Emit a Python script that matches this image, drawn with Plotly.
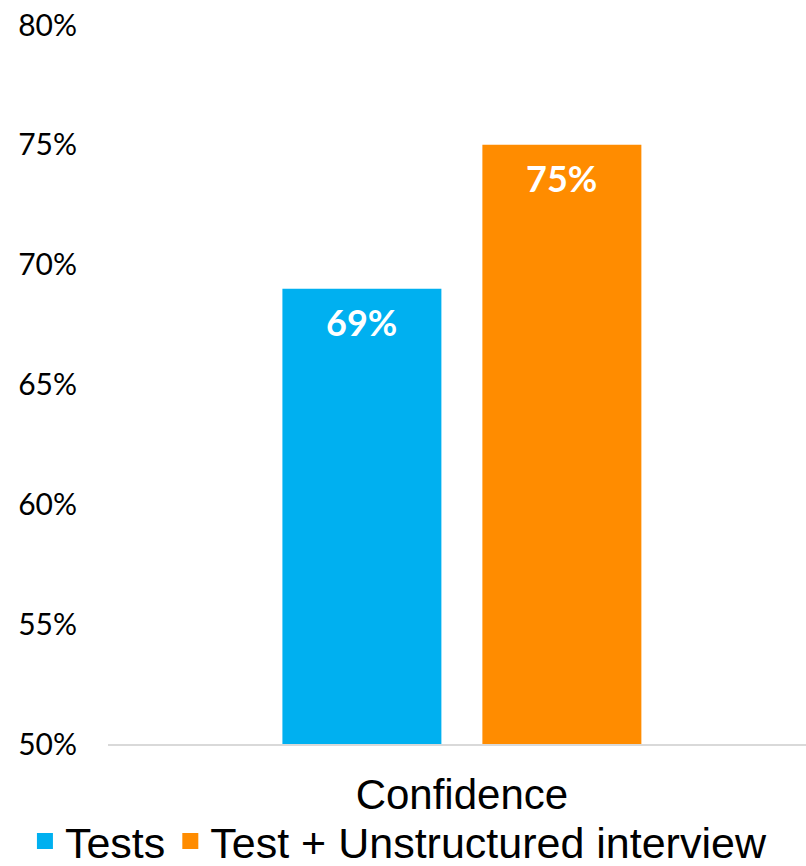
import plotly.graph_objects as go

categories = ["Confidence"]
series_names = ["Tests", "Test + Unstructured interview"]
series_values = [[0.69], [0.75]]
series_colors = ["#00B0F0", "#FF8C00"]
label_shift = [-100, 100]

fig = go.Figure()
for name, vals, col in zip(series_names, series_values, series_colors):
    fig.add_trace(go.Bar(x=categories, y=vals, name=name, marker_color=col,
                         marker_line_width=0, showlegend=False))
# legend entries with larger square swatches
for name, col in zip(series_names, series_colors):
    fig.add_trace(go.Scatter(x=[None], y=[None], name=name, mode="markers",
                             marker=dict(symbol="square", size=20, color=col)))

for vals, sh in zip(series_values, label_shift):
    for c, v in zip(categories, vals):
        fig.add_annotation(x=c, y=v, xref="x", yref="y", text=f"<b>{round(v*100)}%</b>",
                           showarrow=False, xshift=sh, yanchor="top", yshift=-9,
                           font=dict(family="Lato", size=36, color="white"))

fig.update_layout(
    width=806, height=866,
    margin=dict(l=108, r=0, t=25, b=122, autoexpand=False),
    paper_bgcolor="white", plot_bgcolor="white",
    barmode="group", bargap=0.427, bargroupgap=0.205,
    showlegend=True,
    legend=dict(orientation="h", x=-0.119, xanchor="left",
                y=-0.135, yanchor="middle", bgcolor="rgba(0,0,0,0)",
                font=dict(family="Liberation Sans, Arial", size=43, color="black"),
                itemwidth=30, tracegroupgap=0),
    xaxis=dict(range=[-0.507, 0.493], showline=True, linecolor="#d9d9d9", linewidth=2,
               showgrid=False, ticks="", ticklabelstandoff=13, automargin=False,
               tickfont=dict(family="Liberation Sans, Arial", size=42, color="black")),
    yaxis=dict(range=[0.5, 0.8], dtick=0.05, tick0=0.5, tickformat=".0%",
               showgrid=False, zeroline=False, showline=False, ticks="",
               ticklabelstandoff=30, automargin=False,
               tickfont=dict(family="Lato", size=30, color="black")),
)

fig.write_html("out.html")
